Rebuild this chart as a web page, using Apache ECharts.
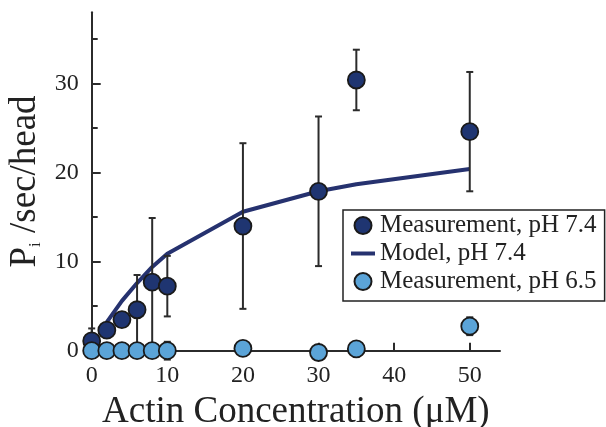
<!DOCTYPE html>
<html><head><meta charset="utf-8">
<script src="https://cdn.jsdelivr.net/npm/echarts@6/dist/echarts.min.js"></script>
<style>html,body{margin:0;padding:0;background:#fff}#c{width:606px;height:427px}</style>
</head><body><div id="c"></div>
<script>
// ---- data ----
const xTicks = [0, 10, 20, 30, 40, 50];
const yTicks = [0, 10, 20, 30];
const yMinorTicks = [5, 15, 25, 35];
const concHigh = [0, 2, 4, 6, 8, 10, 20, 30, 35, 50];
const rateHigh = [1.1, 2.3, 3.5, 4.6, 7.7, 7.25, 14.0, 17.9, 30.4, 24.6];
const errHigh = [1.4, 0.5, 0.6, 3.9, 7.2, 3.4, 9.3, 8.4, 3.4, 6.7];
const concModel = [2, 4, 6, 8, 10, 20, 30, 35, 50];
const rateModel = [3.2, 5.6, 7.6, 9.4, 10.9, 15.6, 17.9, 18.7, 20.4];
const concLow = [0, 2, 4, 6, 8, 10, 20, 30, 35, 50];
const rateLow = [0, 0, 0, 0, 0, 0, 0.25, -0.2, 0.2, 2.75];
const errLow = [0, 0, 0, 0, 0, 1.0, 0, 0.85, 0, 1.0];

const F = "'Liberation Serif','Times New Roman',serif";
const AX = '#2b2b2b';
const DARK = '#1f3571';
const LIGHT = '#5ba4d8';
const EDGE = '#1a1a1a';
const MODEL = '#26326f';

function pts(xs, ys) { return xs.map((x, i) => [x, ys[i]]); }
function errs(xs, ys, es) { return xs.map((x, i) => [x, ys[i] - es[i], ys[i] + es[i]]); }

function errRender(params, api) {
  const x = api.value(0), lo = api.value(1), hi = api.value(2);
  if (hi - lo <= 0) return null;
  const p1 = api.coord([x, hi]), p2 = api.coord([x, lo]);
  const w = 3.5;
  const st = { stroke: AX, lineWidth: 2 };
  return { type: 'group', children: [
    { type: 'line', shape: { x1: p1[0], y1: p1[1], x2: p2[0], y2: p2[1] }, style: st },
    { type: 'line', shape: { x1: p1[0] - w, y1: p1[1], x2: p1[0] + w, y2: p1[1] }, style: st },
    { type: 'line', shape: { x1: p2[0] - w, y1: p2[1], x2: p2[0] + w, y2: p2[1] }, style: st }
  ]};
}

const chart = echarts.init(document.getElementById('c'), null, { renderer: 'canvas' });
chart.setOption({
  animation: false,
  backgroundColor: '#fff',
  grid: { left: 91.7, right: 106, top: 12.3, bottom: 76.3, containLabel: false, outerBoundsMode: 'none' },
  xAxis: {
    type: 'value', min: 0, max: 54,
    axisLine: { lineStyle: { color: AX, width: 2 } },
    axisTick: { inside: true, length: 8, lineStyle: { color: AX, width: 2 }, customValues: xTicks },
    axisLabel: { customValues: xTicks, fontFamily: F, fontSize: 24, color: '#222', margin: 13 },
    splitLine: { show: false },
    name: 'Actin Concentration (μM)', nameLocation: 'middle', nameGap: 43,
    nameTextStyle: { fontFamily: F, fontSize: 37, color: '#222' }
  },
  yAxis: [{
    type: 'value', min: 0, max: 38,
    axisLine: { lineStyle: { color: AX, width: 2 } },
    axisTick: { inside: true, length: 9, lineStyle: { color: AX, width: 2 }, customValues: yTicks },
    axisLabel: { customValues: yTicks, fontFamily: F, fontSize: 24, color: '#222', margin: 13 },
    splitLine: { show: false },
    name: '{p|P}{s|i}{r| /sec/head}', nameLocation: 'middle', nameGap: 46, nameRotate: 90,
    nameTextStyle: { fontFamily: F, fontSize: 37, color: '#222',
      rich: { p: { fontFamily: F, fontSize: 37, color: '#222' },
              s: { fontFamily: F, fontSize: 17, color: '#222', verticalAlign: 'bottom' },
              r: { fontFamily: F, fontSize: 37, color: '#222' } } }
  }, {
    type: 'value', min: 0, max: 38, position: 'left',
    axisLine: { show: false },
    axisTick: { inside: true, length: 6, lineStyle: { color: AX, width: 2 }, customValues: yMinorTicks },
    axisLabel: { show: false },
    splitLine: { show: false }
  }],
  legend: {
    orient: 'vertical', left: 343, top: 210,
    padding: [3, 8, 7, 8], itemGap: 3, itemWidth: 24, itemHeight: 17,
    borderColor: '#222', borderWidth: 1.5, backgroundColor: '#fff', borderRadius: 0,
    textStyle: { fontFamily: F, fontSize: 25, color: '#222' },
    data: [
      { name: 'Measurement, pH 7.4' },
      { name: 'Model, pH 7.4', icon: 'path://M0,0L24,0L24,4L0,4Z' },
      { name: 'Measurement, pH 6.5' }
    ]
  },
  series: [
    { name: 'Model, pH 7.4', type: 'line', data: pts(concModel, rateModel), symbol: 'none',
      lineStyle: { color: MODEL, width: 4 }, itemStyle: { color: MODEL }, z: 2 },
    { name: 'errHigh', type: 'custom', renderItem: errRender, data: errs(concHigh, rateHigh, errHigh),
      encode: { x: 0, y: [1, 2] }, z: 3, silent: true },
    { name: 'Measurement, pH 7.4', type: 'scatter', data: pts(concHigh, rateHigh), symbolSize: 17, clip: false,
      itemStyle: { color: DARK, borderColor: EDGE, borderWidth: 1.8, opacity: 1 }, z: 4 },
    { name: 'errLow', type: 'custom', renderItem: errRender, data: errs(concLow, rateLow, errLow),
      encode: { x: 0, y: [1, 2] }, z: 5, silent: true },
    { name: 'Measurement, pH 6.5', type: 'scatter', data: pts(concLow, rateLow), symbolSize: 17, clip: false,
      itemStyle: { color: LIGHT, borderColor: EDGE, borderWidth: 1.8, opacity: 1 }, z: 6 }
  ]
});
</script></body></html>
